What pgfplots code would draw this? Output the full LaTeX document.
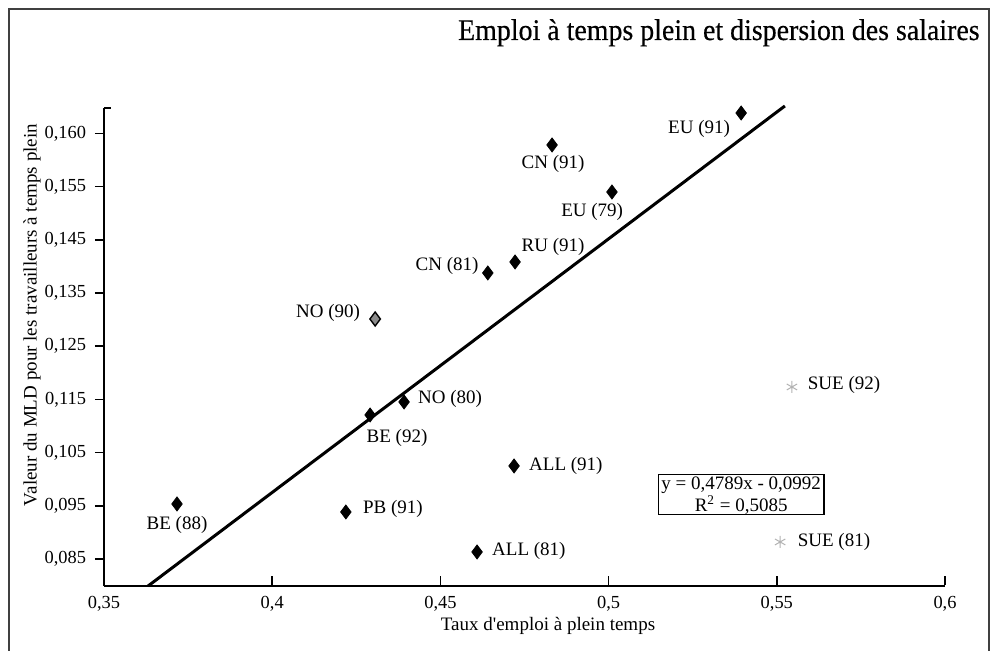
\documentclass[border=0pt]{standalone}
\usepackage{pgfplots}
\pgfplotsset{compat=1.18}
\usepackage{fontspec}
\setmainfont{Liberation Serif}
\newfontfamily\titlefont[FakeStretch=0.93, FakeBold=0.4]{Liberation Serif}
\newcommand\fs{\fontsize{9.5bp}{11bp}\selectfont}
\newcommand\fst{\fontsize{9.2bp}{11bp}\selectfont}
\begin{document}
\begin{tikzpicture}
% outer frame (left, top, right)
\draw[line width=1bp, black!75] (4.5bp,-2bp) -- (4.5bp,321bp) -- (494.5bp,321bp) -- (494.5bp,-2bp);
\begin{axis}[
  at={(52bp,32.5bp)}, anchor=south west,
  scale only axis, width=420.5bp, height=239bp,
  xmin=0.35, xmax=0.6, ymin=0.07992, ymax=0.16977,
  axis lines=left, axis line style={-, line width=1bp},
  clip=false,
  tick align=outside,
  major tick length=4.5bp,
  tick style={line width=0.75bp, black},
  x tick style={yshift=5bp},
  xtick={0.35,0.4,0.45,0.5,0.55,0.6},
  xticklabels={{0,35},{0,4},{0,45},{0,5},{0,55},{0,6}},
  ytick={0.085,0.095,0.105,0.115,0.125,0.135,0.145,0.155,0.165},
  yticklabels={{0,085},{0,095},{0,105},{0,115},{0,125},{0,135},{0,145},{0,155},{0,160}},
  tick label style={font=\fst},
  yticklabel style={xshift=-1bp},
  xticklabel style={yshift=3bp},
]
\addplot[only marks, mark=diamond*, mark size=3.5bp, black] coordinates {
  (0.3717,0.09534) (0.4219,0.09383) (0.4291,0.11207) (0.4392,0.11451)
  (0.4641,0.13876) (0.4722,0.14083) (0.4832,0.16282) (0.5010,0.15398)
  (0.5394,0.16883) (0.4719,0.10248) (0.4609,0.08632)
};
\addplot[only marks, mark=diamond*, mark size=3.5bp, draw=black, fill=black!45, line width=0.7bp] coordinates {
  (0.4306,0.13011)
};
\addplot[only marks, mark=asterisk, mark size=3bp, black!30, line width=0.5bp] coordinates {
  (0.5545,0.11733) (0.5510,0.08820)
};
\addplot[line width=1.5bp, black] coordinates {(0.3631,0.07992) (0.5524,0.17015)};
\draw[line width=1bp] (rel axis cs:0,1) -- ++(3.5bp,0pt);
\begin{scope}[every node/.style={font=\fs, inner sep=0pt}]
\node at (axis cs:0.5269,0.16583) {EU (91)};
\node at (axis cs:0.4835,0.15925) {CN (91)};
\node at (axis cs:0.4951,0.15023) {EU (79)};
\node at (axis cs:0.4835,0.14365) {RU (91)};
\node at (axis cs:0.4520,0.14013) {CN (81)};
\node at (axis cs:0.4166,0.13124) {NO (90)};
\node at (axis cs:0.4529,0.11508) {NO (80)};
\node at (axis cs:0.4371,0.10774) {BE (92)};
\node at (axis cs:0.4359,0.09440) {PB (91)};
\node at (axis cs:0.3717,0.09139) {BE (88)};
\node at (axis cs:0.4873,0.10248) {ALL (91)};
\node at (axis cs:0.4763,0.08650) {ALL (81)};
\node at (axis cs:0.5700,0.11771) {SUE (92)};
\node at (axis cs:0.5670,0.08820) {SUE (81)};
\end{scope}
\node[draw, line width=0.6bp, font=\fs, align=center, inner xsep=1.5bp, inner ysep=1.5bp, text depth=0pt]
  at (axis cs:0.5394,0.09712) {y = 0,4789x - 0,0992\\R\textsuperscript{2} = 0,5085};
\end{axis}
\node[anchor=base east, font=\titlefont\fontsize{15bp}{17bp}\selectfont, inner sep=0pt] at (490bp,305.5bp) {Emploi à temps plein et dispersion des salaires};
\node[rotate=90, font=\fs, inner sep=0pt] at (16bp,168bp) {Valeur du MLD pour les travailleurs à temps plein};
\node[font=\fs, inner sep=0pt] at (274bp,12.5bp) {Taux d\textquotesingle emploi à plein temps};
\pgfresetboundingbox
\path[use as bounding box] (0,0) rectangle (496bp,325.5bp);
\end{tikzpicture}
\end{document}
